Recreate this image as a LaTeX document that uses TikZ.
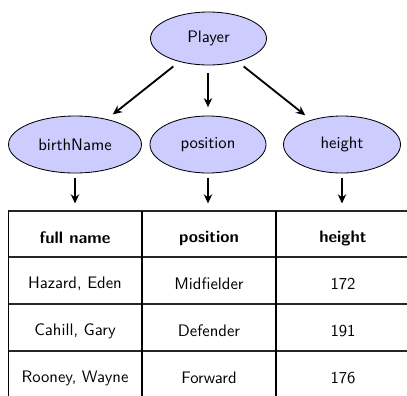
\documentclass[tikz,border=0pt]{standalone}
\usetikzlibrary{shapes.geometric,arrows.meta}
\begin{document}
\begin{tikzpicture}[x=0.6pt,y=-0.6pt,font=\sffamily,
  entity/.style={ellipse,draw=black,line width=0.5pt,fill=blue!20,inner sep=0pt},
  arr/.style={-{Stealth[length=5.5pt,width=5pt]},line width=1.1pt},
  cell/.style={inner sep=0pt},
  hcell/.style={cell,font=\sffamily\bfseries},
  hline/.style={line width=0.9pt,black!85},
  vline/.style={line width=1.2pt}]
\useasboundingbox (0,0) rectangle (407,395);

% entity ellipses
\node[entity,minimum width=116*0.6pt,minimum height=53*0.6pt] (player) at (208.5,38.5) {Player};
\node[entity,minimum width=133*0.6pt,minimum height=57*0.6pt] (birth) at (75,144.5) {birthName};
\node[entity,minimum width=116*0.6pt,minimum height=57*0.6pt] (pos) at (208,144.5) {position};
\node[entity,minimum width=117*0.6pt,minimum height=57*0.6pt] (hgt) at (342,144.5) {height};

% arrows from the root to its attributes
\draw[arr,shorten <=4.5pt,shorten >=4.5pt] (player) -- (birth);
\draw[arr,shorten <=4.5pt,shorten >=5pt] (player.south -| pos) -- (pos);
\draw[arr,shorten <=4.5pt,shorten >=4.5pt] (player) -- (hgt);

% table top anchors for the attribute arrows
\coordinate (t1) at (75,211);
\coordinate (t2) at (208,211);
\coordinate (t3) at (342,211);
\draw[arr,shorten <=2.5pt,shorten >=4.5pt] (birth.south) -- (t1);
\draw[arr,shorten <=2.5pt,shorten >=4.5pt] (pos.south) -- (t2);
\draw[arr,shorten <=2.5pt,shorten >=4.5pt] (hgt.south) -- (t3);

% table grid
\foreach \y in {211,257,304,351}
  \draw[hline] (8,\y) -- (410,\y);
\draw[line width=0.6pt] (8,211) -- (8,400);
\foreach \x in {142,276}
  \draw[vline] (\x,211) -- (\x,400);

% header row
\node[hcell] (h1) at (75,238) {full name};
\node[hcell] (h2) at (209,238) {position};
\node[hcell] (h3) at (343,238) {height};

% data rows
\node[cell] (a1) at (75,284) {Hazard, Eden};
\node[cell] (a2) at (209,284) {Midfielder};
\node[cell] (a3) at (343,284) {172};
\node[cell] (b1) at (75,331) {Cahill, Gary};
\node[cell] (b2) at (209,331) {Defender};
\node[cell] (b3) at (343,331) {191};
\node[cell] (c1) at (75,378) {Rooney, Wayne};
\node[cell] (c2) at (209,378) {Forward};
\node[cell] (c3) at (343,378) {176};
\end{tikzpicture}
\end{document}
